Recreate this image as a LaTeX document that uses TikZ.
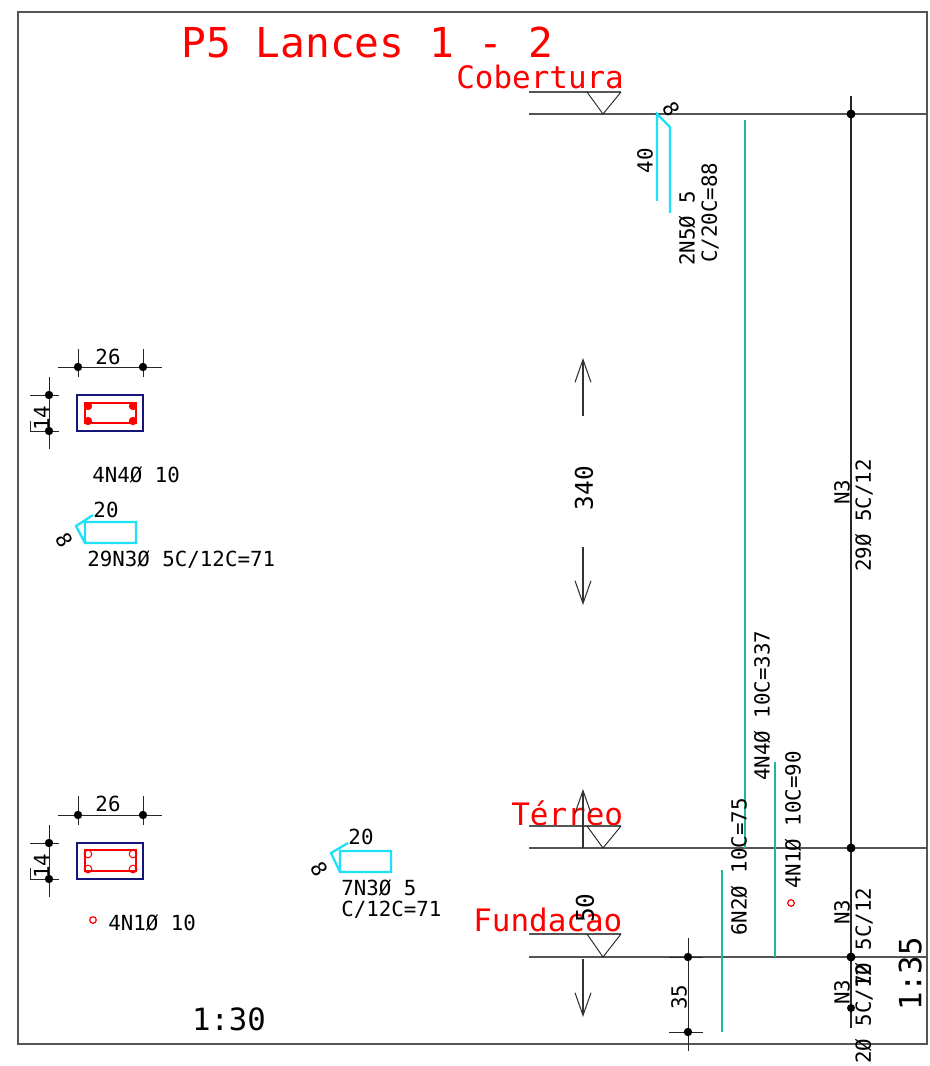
\documentclass[tikz,border=0pt]{standalone}
\usepackage{fontspec}
\setmainfont{DejaVu Sans Mono}
\definecolor{framegray}{HTML}{555555}
\definecolor{rebarteal}{HTML}{1DB99A}
\definecolor{stirrupcyan}{HTML}{1CE1F7}
\definecolor{pillarnavy}{HTML}{14147A}
\usetikzlibrary{arrows.meta}
\tikzset{
  small/.style={inner sep=0pt,black,font=\fontsize{15.6}{15.6}\selectfont},
  smallr/.style={small,rotate=90},
  hook/.style={small,rotate=-60},
  scalefont/.style={inner sep=0pt,black,text height=17pt,text depth=0pt,font=\fontsize{23}{23}\selectfont},
  levelname/.style={inner sep=0pt,red,font=\fontsize{23.2}{23.2}\selectfont},
  height/.style={inner sep=0pt,black,rotate=90,font=\fontsize{18.3}{18.3}\selectfont},
  gridline/.style={framegray,line width=.9pt},
  dimline/.style={black!85,line width=.7pt},
  rebar/.style={rebarteal,line width=1.5pt},
  stirrup/.style={stirrupcyan,line width=1.7pt},
  pillar/.style={pillarnavy,line width=1.3pt},
  tie/.style={red,line width=.8pt},
  openarrow/.style={black!80,line width=.8pt,-{Straight Barb[length=17pt,width=12pt]}}
}
\begin{document}
\begin{tikzpicture}[x=.75pt,y=-.75pt]
\useasboundingbox (0,0) rectangle (929,1066);
\draw[gridline] (18,12) -- (927,12) -- (927,1044) -- (18,1044) -- cycle;

\node[inner sep=0pt,red,anchor=west,font=\fontsize{30.9}{30.9}\selectfont] (title) at (181,43) {P5 Lances 1 - 2};

% levels
\node[levelname,anchor=west] (cobertura) at (456,77) {Cobertura};
\draw[gridline] (529,92) -- (621,92);
\draw[gridline] (529,114) -- (927,114);
\draw[dimline] (587,92) -- (603,114) -- (621,92);

\node[levelname,anchor=west] (terreo) at (511,813) {Térreo};
\draw[gridline] (529,826) -- (621,826);
\draw[gridline] (529,848) -- (927,848);
\draw[dimline] (587,826) -- (603,848) -- (621,826);

\node[levelname,anchor=west] (fundacao) at (473,920) {Fundacao};
\draw[gridline] (529,934) -- (621,934);
\draw[gridline] (529,957) -- (927,957);
\draw[dimline] (587,934) -- (603,957) -- (621,934);

% storey heights
\draw[openarrow] (583,416) -- (583,358);
\draw[openarrow] (583,547) -- (583,605);
\node[height] (h340) at (584,488) {340};
\draw[openarrow] (583,848) -- (583,789);
\draw[openarrow] (583,959) -- (583,1017);
\node[height] (h50) at (585,908) {50};

% right hand N3 line
\draw[dimline,line width=.8pt] (851,96) -- (851,1028);
\fill (851,114) circle (4.5);
\fill (851,848) circle (4.5);
\fill (851,957) circle (4.5);
\fill (851,1008) circle (4);
\node[smallr,anchor=west] (n3top) at (842,505) {N3};
\node[smallr,anchor=west] (s29) at (864,572) {29Ø 5C/12};
\node[smallr,anchor=west] (n3mid) at (842,925) {N3};
\node[smallr,anchor=west] (s7) at (864,988) {7Ø 5C/12};
\node[smallr,anchor=west] (n3low) at (842,1005) {N3};
\node[smallr,anchor=west] (s2) at (864,1064) {2Ø 5C/12};

% bars
\draw[rebar] (745,120) -- (745,848);
\draw[rebar] (775,762) -- (775,957);
\draw[rebar] (722,870) -- (722,1032);
\node[smallr,anchor=west] (n4) at (762,781) {4N4Ø 10C=337};
\node[smallr,anchor=west] (n1) at (793,889) {4N1Ø 10C=90};
\node[smallr,anchor=west] (n2) at (739,936) {6N2Ø 10C=75};
\draw[red,line width=.9pt] (791,903) circle (3.3);

\draw[stirrup] (657,201) -- (657,114) -- (670,127) -- (670,213);
\node[hook] (hook5) at (671,109) {8};
\node[smallr] (len40) at (645,161) {40};
\node[smallr,anchor=west] (n5a) at (687,266) {2N5Ø 5};
\node[smallr,anchor=west] (n5b) at (710,263) {C/20C=88};

% foundation dimension
\draw[dimline] (688,938) -- (688,1051);
\draw[dimline] (669,957) -- (703,957);
\draw[dimline] (669,1032) -- (703,1032);
\fill (688,957) circle (4.2);
\fill (688,1032) circle (4.2);
\node[smallr] (len35) at (679,997) {35};

% upper section
\draw[dimline] (58,367) -- (162,367);
\draw[dimline] (78,349) -- (78,377);
\draw[dimline] (143,349) -- (143,377);
\fill (78,367) circle (4.2);
\fill (143,367) circle (4.2);
\node[small] (w1) at (108,357) {26};
\draw[dimline] (49,377) -- (49,449);
\draw[dimline] (30,395) -- (59,395);
\draw[dimline] (30,421) -- (30,431) -- (59,431);
\fill (49,395) circle (4.2);
\fill (49,431) circle (4.2);
\node[smallr] (d1) at (41.5,418) {14};
\draw[pillar] (77,395) rectangle (143,431);
\draw[tie] (85,423) -- (85,403) -- (136,403) -- (136,423) -- cycle;
\fill[red] (88,406) circle (4.2);
\fill[red] (133,406) circle (4.2);
\fill[red] (88,421) circle (4.2);
\fill[red] (133,421) circle (4.2);
\node[small,anchor=west] (n4sec) at (92,475) {4N4Ø 10};

\draw[stirrup] (93,515) -- (76,526) -- (85,543) -- (136,543) -- (136,522) -- (85,522) -- (85,543);
\node[small] (w20a) at (106,510) {20};
\node[hook] (hook3a) at (64,540) {8};
\node[small,anchor=west] (n3a) at (87,560) {29N3Ø 5C/12C=71};

% lower section
\draw[dimline] (58,815) -- (162,815);
\draw[dimline] (78,796) -- (78,825);
\draw[dimline] (143,796) -- (143,825);
\fill (78,815) circle (4.2);
\fill (143,815) circle (4.2);
\node[small] (w2) at (108,804) {26};
\draw[dimline] (49,825) -- (49,897);
\draw[dimline] (30,843) -- (59,843);
\draw[dimline] (30,868) -- (30,879) -- (59,879);
\fill (49,843) circle (4.2);
\fill (49,879) circle (4.2);
\node[smallr] (d2) at (41.5,866) {14};
\draw[pillar] (77,843) rectangle (143,879);
\draw[tie] (85,871) -- (85,850) -- (136,850) -- (136,871) -- cycle;
\draw[tie] (88,854) circle (3.8);
\draw[tie] (133,854) circle (3.8);
\draw[tie] (88,869) circle (3.8);
\draw[tie] (133,869) circle (3.8);
\draw[red,line width=.9pt] (93,920) circle (3.3);
\node[small,anchor=west] (n1sec) at (108,923) {4N1Ø 10};

\draw[stirrup] (348,843) -- (331,853) -- (340,872) -- (391,872) -- (391,851) -- (340,851) -- (340,872);
\node[small] (w20b) at (361,837) {20};
\node[hook] (hook3b) at (319,869) {8};
\node[small,anchor=west] (n3ba) at (341,888) {7N3Ø 5};
\node[small,anchor=west] (n3bb) at (341,910) {C/12C=71};

\node[scalefont] (scaleA) at (229,1019) {1:30};
\node[scalefont,rotate=90] (scaleB) at (910,974) {1:35};
\end{tikzpicture}
\end{document}
